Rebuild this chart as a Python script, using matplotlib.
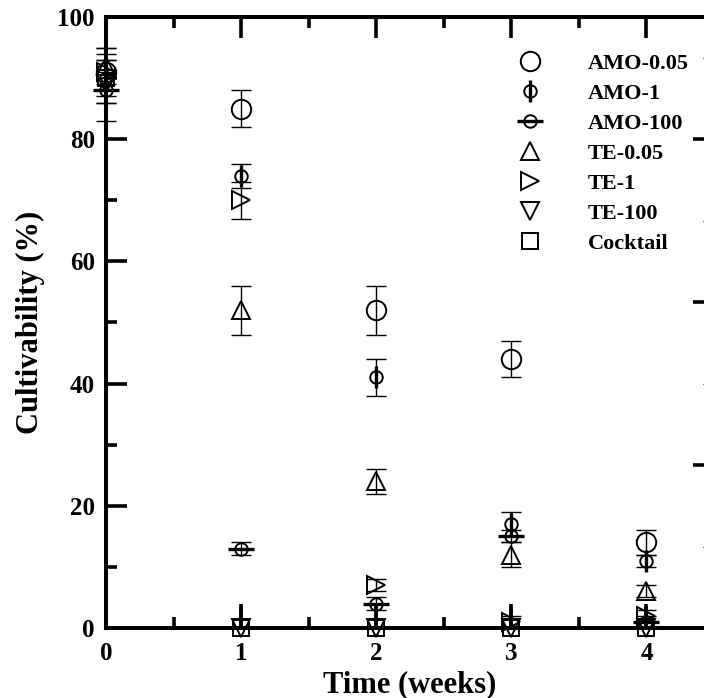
import matplotlib.pyplot as plt
from matplotlib.legend_handler import HandlerTuple
from matplotlib.ticker import MultipleLocator

plt.rcParams['font.family'] = ['Liberation Serif', 'DejaVu Serif']
plt.rcParams['font.weight'] = 'bold'

weeks = [0, 1, 2, 3, 4]

# cultivability (%) and error bars
amo_005 = [91, 85, 52, 44, 14]
amo_005_err = [4, 3, 4, 3, 2]
amo_1 = [90, 74, 41, 17, 11]
amo_1_err = [4, 2, 3, 2, 1]
amo_100 = [88, 13, 4, 15, 1]
amo_100_err = [2, 1, 1, 1, 1]
te_005 = [92, 52, 24, 12, 6]
te_005_err = [1, 4, 2, 2, 1]
te_1 = [91, 70, 7, 1, 2]
te_1_err = [2, 3, 1, 1, 1]
te_100 = [89, 0, 0, 0, 0]
te_100_err = [6, 0, 0, 0, 0]
cocktail = [90, 0, 0, 0, 0]
cocktail_err_lo = [5, 0, 0, 0, 0]
cocktail_err_hi = [5, 4, 4, 4, 4]


def main():
    fig = plt.figure(figsize=(7.04, 6.98), dpi=100)
    ax = fig.add_axes([0.1506, 0.1003, 0.8636, 0.8754])

    eb = dict(fmt='none', ecolor='black', elinewidth=1.0, capsize=7.5,
              capthick=1.0, clip_on=False, zorder=2)
    mk = dict(ls='none', color='black', mfc='none', mew=1.4, clip_on=False, zorder=3)

    ax.errorbar(weeks, amo_005, yerr=amo_005_err, **eb)
    ax.errorbar(weeks, amo_1, yerr=amo_1_err, **eb)
    ax.errorbar(weeks, amo_100, yerr=amo_100_err, **eb)
    ax.errorbar(weeks, te_005, yerr=te_005_err, **eb)
    ax.errorbar(weeks, te_1, yerr=te_1_err, **eb)
    ax.errorbar(weeks, te_100, yerr=te_100_err, **eb)
    ax.errorbar(weeks, cocktail, yerr=[cocktail_err_lo, cocktail_err_hi],
                fmt='none', ecolor='black', elinewidth=2.6, capsize=0,
                clip_on=False, zorder=2)

    h1, = ax.plot(weeks, amo_005, marker='o', ms=14, **mk)
    h2a, = ax.plot(weeks, amo_1, marker='o', ms=9, **mk)
    h2b, = ax.plot(weeks, amo_1, ls='none', marker='|', ms=16, mew=2.4,
                   color='black', clip_on=False, zorder=3)
    h3a, = ax.plot(weeks, amo_100, marker='o', ms=9, **mk)
    h3b, = ax.plot(weeks, amo_100, ls='none', marker='_', ms=19, mew=2.4,
                   color='black', clip_on=False, zorder=3)
    h4, = ax.plot(weeks, te_005, marker='^', ms=13, **mk)
    h5, = ax.plot(weeks, te_1, marker='>', ms=13, **mk)
    h6, = ax.plot(weeks, te_100, marker='v', ms=13, **mk)
    h7, = ax.plot(weeks, cocktail, marker='s', ms=12, **mk)

    ax.set_xlim(0, 4.5)
    ax.set_ylim(0, 100)
    ax.xaxis.set_major_locator(MultipleLocator(1))
    ax.xaxis.set_minor_locator(MultipleLocator(0.5))
    ax.yaxis.set_major_locator(MultipleLocator(20))
    ax.yaxis.set_minor_locator(MultipleLocator(10))
    ax.tick_params(which='both', direction='in', top=True, right=False,
                   width=2.6, labelsize=18)
    ax.tick_params(axis='x', pad=10)
    ax.tick_params(axis='y', pad=8)
    ax.tick_params(which='major', length=15)
    ax.tick_params(which='minor', length=8)
    for s in ax.spines.values():
        s.set_linewidth(2.9)

    # secondary scale on the right (labels fall outside the picture)
    ax2 = ax.twinx()
    ax2.set_ylim(0, 7.5)
    ax2.yaxis.set_major_locator(MultipleLocator(2))
    ax2.yaxis.set_minor_locator(MultipleLocator(1))
    ax2.tick_params(which='both', direction='in', width=2.6, labelright=False)
    ax2.tick_params(which='major', length=15)
    ax2.tick_params(which='minor', length=8, width=1.0)

    ax.set_xlabel('Time (weeks)', fontsize=22, fontweight='bold', labelpad=4)
    ax.set_ylabel('Cultivability (%)', fontsize=22, fontweight='bold', labelpad=9)

    handles = [h1, (h2a, h2b), (h3a, h3b), h4, h5, h6, h7]
    labels = ['AMO-0.05', 'AMO-1', 'AMO-100', 'TE-0.05', 'TE-1', 'TE-100', 'Cocktail']
    ax.legend(handles, labels, loc='upper left', bbox_to_anchor=(0.661, 0.94),
              frameon=False, numpoints=1, handlelength=2.0, handletextpad=1.6,
              borderpad=0, borderaxespad=0, labelspacing=0.42,
              prop={'size': 16, 'weight': 'bold'},
              handler_map={tuple: HandlerTuple(ndivide=1, pad=0)})

    fig.savefig('out.png', dpi=100)


if __name__ == '__main__':
    main()
